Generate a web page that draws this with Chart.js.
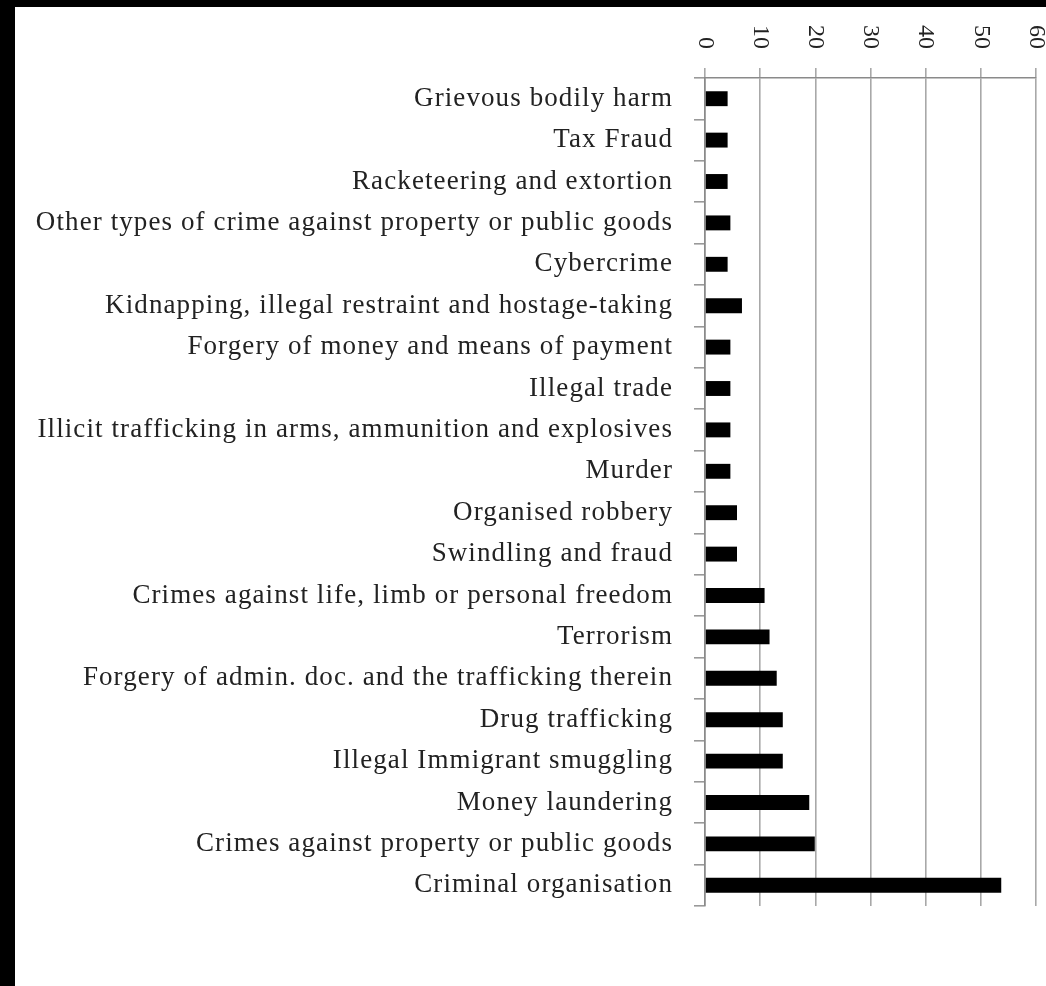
<!DOCTYPE html>
<html>
<head>
<meta charset="utf-8">
<script src="https://cdn.jsdelivr.net/npm/chart.js@4.4.1/dist/chart.umd.min.js"></script>
<style>
  html, body { margin: 0; padding: 0; background: #000; width: 1046px; height: 986px; overflow: hidden; }
  #panel { position: absolute; left: 15px; top: 7px; width: 1031px; height: 979px; background: #fff; }
</style>
</head>
<body>
<div id="panel"><canvas id="grafico" width="1031" height="979"></canvas></div>
<script>
const categorias = [
    'Grievous bodily harm',
    'Tax Fraud',
    'Racketeering and extortion',
    'Other types of crime against property or public goods',
    'Cybercrime',
    'Kidnapping, illegal restraint and hostage-taking',
    'Forgery of money and means of payment',
    'Illegal trade',
    'Illicit trafficking in arms, ammunition and explosives',
    'Murder',
    'Organised robbery',
    'Swindling and fraud',
    'Crimes against life, limb or personal freedom',
    'Terrorism',
    'Forgery of admin. doc. and the trafficking therein',
    'Drug trafficking',
    'Illegal Immigrant smuggling',
    'Money laundering',
    'Crimes against property or public goods',
    'Criminal organisation'
];

const valores = [4.1, 4.1, 4.1, 4.6, 4.1, 6.7, 4.6, 4.6, 4.6, 4.6,
    5.8, 5.8, 10.8, 11.7, 13.0, 14.1, 14.1, 18.9, 19.9, 53.7];

const marcas = [0, 10, 20, 30, 40, 50, 60];

const fuente = '"Liberation Serif", "Times New Roman", serif';

// espaciado de letras un poco mas ancho, como en el original
const espaciado = {
    id: 'espaciado',
    beforeDraw(chart) {
        chart.ctx.letterSpacing = '1.1px';
    }
};

// etiquetas del eje superior giradas 90 grados en sentido horario
const etiquetasArriba = {
    id: 'etiquetasArriba',
    afterDraw(chart) {
        const sc = chart.scales.x;
        const ctx = chart.ctx;
        ctx.save();
        ctx.letterSpacing = '0px';
        ctx.font = '24px ' + fuente;
        ctx.fillStyle = '#222';
        ctx.textAlign = 'right';
        ctx.textBaseline = 'middle';
        sc.ticks.forEach((t, i) => {
            const x = sc.getPixelForTick(i);
            ctx.save();
            ctx.translate(x, 42);
            ctx.rotate(Math.PI / 2);
            ctx.fillText(String(t.value), 0, 0);
            ctx.restore();
        });
        ctx.restore();
    }
};

new Chart(document.getElementById('grafico'), {
    type: 'bar',
    data: {
        labels: categorias,
        datasets: [{
            data: valores,
            backgroundColor: '#000',
            borderWidth: 0,
            barPercentage: 0.36,
            categoryPercentage: 1
        }]
    },
    options: {
        indexAxis: 'y',
        responsive: false,
        animation: false,
        devicePixelRatio: 1,
        layout: { padding: { left: 0, right: 10, top: 0, bottom: 80 } },
        plugins: {
            legend: { display: false },
            tooltip: { enabled: false }
        },
        scales: {
            x: {
                position: 'top',
                min: 0,
                max: 60,
                afterBuildTicks: (scale) => {
                    scale.ticks = marcas.map(v => ({ value: v }));
                },
                afterFit: (scale) => { scale.height = 71; },
                ticks: { display: false },
                grid: {
                    color: '#a8a8a8',
                    lineWidth: 1.6,
                    tickLength: 10
                },
                border: { display: true, color: '#8a8a8a', width: 1.6 }
            },
            y: {
                afterFit: (scale) => { scale.width = 690; },
                ticks: {
                    color: '#222',
                    padding: 21,
                    autoSkip: false,
                    font: { family: fuente, size: 27 }
                },
                grid: {
                    drawOnChartArea: false,
                    color: '#999',
                    lineWidth: 1.6,
                    tickLength: 11
                },
                border: { display: true, color: '#8a8a8a', width: 1.6 }
            }
        }
    },
    plugins: [espaciado, etiquetasArriba]
});
</script>
</body>
</html>
